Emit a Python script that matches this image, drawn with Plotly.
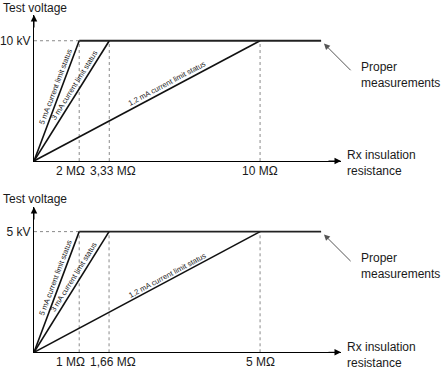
import math
import plotly.graph_objects as go

W, H = 448, 379

# ---------------- data ----------------
currents_mA = [5, 3, 1.2]
current_labels = ["5 mA current limit status", "3 mA current limit status", "1,2 mA current limit status"]

top_voltage_kV = 10
top_r_MOhm = [2, 3.33, 10]
top_r_labels = ["2 MΩ", "3,33 MΩ", "10 MΩ"]
top_v_label = "10 kV"
top_line_end = 12.7

bottom_voltage_kV = 5
bottom_r_MOhm = [1, 1.66, 5]
bottom_r_labels = ["1 MΩ", "1,66 MΩ", "5 MΩ"]
bottom_v_label = "5 kV"
bottom_line_end = 6.35

y_title = "Test voltage"
x_title = "Rx insulation<br>resistance"
note = "Proper<br>measurements"

# ---------------- layout geometry (pixels) ----------------
X0, X1 = 34, 341
panels = [
    dict(V=top_voltage_kV, rs=top_r_MOhm, labels=top_r_labels, vlab=top_v_label, end=top_line_end,
         xmax=13.58, ymax=12.14, y0=161, y1=15, xa="x", ya="y", xk="xaxis", yk="yaxis"),
    dict(V=bottom_voltage_kV, rs=bottom_r_MOhm, labels=bottom_r_labels, vlab=bottom_v_label, end=bottom_line_end,
         xmax=6.79, ymax=6.02, y0=352.3, y1=207, xa="x2", ya="y2", xk="xaxis2", yk="yaxis2"),
]
# label placement tweaks for the three resistance labels (anchor, pixel shift)
label_place = [("right", 8), ("center", 4), ("center", 0)]

FONT = "Liberation Sans, Arial, Helvetica, sans-serif"
TXT = "#1a1a1a"
fig = go.Figure()
annotations = []
layout_axes = {}

for p in panels:
    V, rs = p["V"], p["rs"]
    xa, ya = p["xa"], p["ya"]
    sx = (X1 - X0) / p["xmax"]
    sy = (p["y0"] - p["y1"]) / p["ymax"]
    # dotted guides
    fig.add_trace(go.Scatter(x=[0, rs[0]], y=[V, V], mode="lines", xaxis=xa, yaxis=ya,
                             line=dict(color="#8a8a8a", width=1, dash="dot"), hoverinfo="skip"))
    for r in rs:
        fig.add_trace(go.Scatter(x=[r, r], y=[0, V], mode="lines", xaxis=xa, yaxis=ya,
                                 line=dict(color="#8a8a8a", width=1, dash="dot"), hoverinfo="skip"))
    # current limit lines
    for r in rs:
        fig.add_trace(go.Scatter(x=[0, r], y=[0, V], mode="lines", xaxis=xa, yaxis=ya,
                                 line=dict(color="#111", width=1.6), hoverinfo="skip"))
    # proper measurement plateau
    fig.add_trace(go.Scatter(x=[rs[0], p["end"]], y=[V, V], mode="lines", xaxis=xa, yaxis=ya,
                             line=dict(color="#222", width=1.8), hoverinfo="skip"))

    # rotated labels along lines
    for r, lab in zip(rs, current_labels):
        th = math.atan2(V * sy, r * sx)
        d = 5.5
        annotations.append(dict(x=0.6 * r, y=0.6 * V, xref=xa, yref=ya, text=lab, showarrow=False,
                                textangle=-math.degrees(th), xshift=-d * math.sin(th), yshift=d * math.cos(th),
                                font=dict(family=FONT, size=7.5, color="#222")))
    # resistance labels under the axis
    for r, lab, (anc, sh) in zip(rs, p["labels"], label_place):
        annotations.append(dict(x=r, y=0, xref=xa, yref=ya, text=lab, showarrow=False,
                                xanchor=anc, yanchor="top", xshift=sh, yshift=-1,
                                font=dict(family=FONT, size=12, color=TXT)))
    # axis arrowheads
    annotations.append(dict(x=p["xmax"], y=0, xref=xa, yref=ya, text="", showarrow=True,
                            ax=-14, ay=0, arrowhead=2, arrowsize=1.3, arrowwidth=1, arrowcolor="#000"))
    annotations.append(dict(x=0, y=p["ymax"], xref=xa, yref=ya, text="", showarrow=True,
                            ax=0, ay=14, arrowhead=2, arrowsize=1.3, arrowwidth=1, arrowcolor="#000"))
    # pointer to plateau
    annotations.append(dict(x=p["end"], y=V, xref=xa, yref=ya, text="", showarrow=True,
                            ax=31, ay=31, standoff=4, arrowhead=2, arrowsize=1.2, arrowwidth=1,
                            arrowcolor="#555"))
    off = p["y0"] - 161
    annotations.append(dict(x=359 / W, y=1 - (74.5 + off) / H, xref="paper", yref="paper", text=note,
                            showarrow=False, xanchor="left", yanchor="middle", align="left",
                            font=dict(family=FONT, size=12, color=TXT)))
    annotations.append(dict(x=345 / W, y=1 - (163.5 + off) / H, xref="paper", yref="paper", text=x_title,
                            showarrow=False, xanchor="left", yanchor="middle", align="left",
                            font=dict(family=FONT, size=12, color=TXT)))
    annotations.append(dict(x=1 / W, y=1 - (8 + off) / H, xref="paper", yref="paper", text=y_title,
                            showarrow=False, xanchor="left", yanchor="middle", align="left",
                            font=dict(family=FONT, size=12, color=TXT)))

    layout_axes[p["xk"]] = dict(domain=[X0 / W, X1 / W], range=[0, p["xmax"]], anchor=ya,
                                showline=True, linecolor="#000", linewidth=1, showgrid=False, zeroline=False,
                                showticklabels=False, ticks="", fixedrange=True)
    layout_axes[p["yk"]] = dict(domain=[1 - p["y0"] / H, 1 - p["y1"] / H], range=[0, p["ymax"]], anchor=xa,
                                showline=True, linecolor="#000", linewidth=1, showgrid=False, zeroline=False,
                                ticks="", tickvals=[V], ticktext=[p["vlab"]],
                                tickfont=dict(family=FONT, size=12, color=TXT), fixedrange=True)

fig.update_layout(width=W, height=H, margin=dict(l=0, r=0, t=0, b=0), showlegend=False,
                  plot_bgcolor="white", paper_bgcolor="white", annotations=annotations, **layout_axes)

fig.write_html("out.html", config={"displayModeBar": False},
               post_script="document.body.style.margin='0';document.body.style.overflow='hidden';")
